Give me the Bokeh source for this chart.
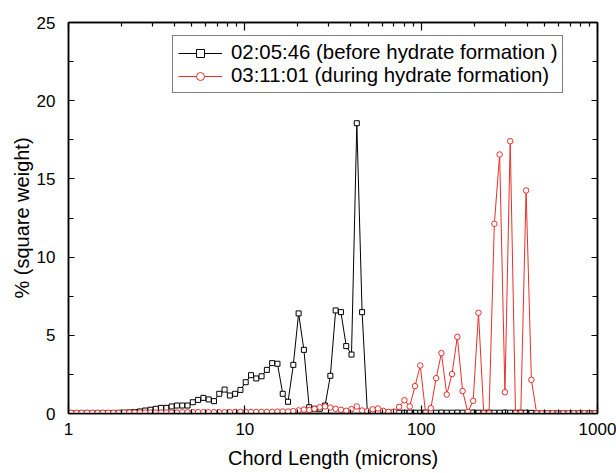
from bokeh.plotting import figure
from bokeh.models import (LinearAxis, LogAxis, FixedTicker, SingleIntervalTicker,
                          PrintfTickFormatter, Range1d, Legend, LegendItem, ColumnDataSource)
from bokeh.embed import file_html
from bokeh.resources import INLINE

# Chord length channel centres (microns), log-spaced channels 1-1000
chord = [1.0351, 1.1092, 1.1885, 1.2735, 1.3646, 1.4622, 1.5668, 1.6788, 1.7989, 1.9275,
         2.0654, 2.2131, 2.3714, 2.5410, 2.7227, 2.9174, 3.1261, 3.3497, 3.5892, 3.8459,
         4.1210, 4.4157, 4.7315, 5.0699, 5.4325, 5.8210, 6.2373, 6.6834, 7.1614, 7.6736,
         8.2224, 8.8105, 9.4406,
         10.116, 10.839, 11.614, 12.445, 13.335, 14.289, 15.311, 16.406, 17.579, 18.836,
         20.184, 21.627, 23.174, 24.831, 26.607, 28.510, 30.549, 32.734, 35.075, 37.584,
         40.272, 43.152, 46.238, 49.545, 53.088, 56.885, 60.954, 65.313, 69.984, 74.989,
         80.353, 86.099, 92.257, 98.855,
         105.93, 113.50, 121.62, 130.32, 139.64, 149.62, 160.32, 171.79, 184.08, 197.24,
         211.35, 226.46, 242.66, 260.02, 278.61, 298.54, 319.89, 342.77, 367.28, 393.55,
         421.70, 451.86, 484.17, 518.80, 555.90, 595.66, 638.26, 683.91, 732.82, 785.24,
         841.40, 901.57, 966.05]

before = [0.01, 0.01, 0.01, 0.01, 0.01, 0.02, 0.02, 0.03, 0.03, 0.04,
          0.05, 0.07, 0.09, 0.13, 0.19, 0.24, 0.30, 0.36, 0.36, 0.45,
          0.51, 0.51, 0.51, 0.72, 0.87, 1.00, 0.90, 0.79, 1.26, 1.53,
          1.15, 1.26, 1.51, 2.00, 2.45, 2.24, 2.38, 2.79, 3.22, 3.18,
          1.26, 0.75, 3.11, 6.40, 4.07, 0.40, 0.30, 0.30, 0.51, 2.41,
          6.59, 6.48, 4.31, 3.77, 18.56, 6.48, 0.05, 0.05, 0.06, 0.05,
          0.05, 0.06, 0.05, 0.05, 0.06, 0.05, 0.05, 0.06, 0.05, 0.05,
          0.06, 0.05, 0.05, 0.06, 0.05, 0.05, 0.06, 0.05, 0.05, 0.06,
          0.05, 0.05, 0.06, 0.05, 0.05, 0.06, 0.05, 0.04, 0.01, 0.01,
          0.01, 0.01, 0.01, 0.01, 0.01, 0.01, 0.01, 0.01, 0.01, 0.01]

during = [0.05, 0.05, 0.05, 0.05, 0.05, 0.05, 0.05, 0.05, 0.05, 0.05,
          0.06, 0.06, 0.06, 0.06, 0.06, 0.06, 0.06, 0.06, 0.06, 0.06,
          0.06, 0.08, 0.08, 0.08, 0.08, 0.08, 0.08, 0.08, 0.08, 0.08,
          0.08, 0.10, 0.10, 0.10, 0.10, 0.10, 0.10, 0.10, 0.10, 0.12,
          0.13, 0.12, 0.15, 0.20, 0.25, 0.22, 0.30, 0.40, 0.45, 0.38,
          0.30, 0.24, 0.17, 0.28, 0.45, 0.19, 0.15, 0.27, 0.32, 0.17,
          0.10, 0.12, 0.42, 0.85, 0.45, 1.75, 3.07, 0.04, 0.34, 2.26,
          3.86, 1.21, 2.52, 4.90, 1.43, 0.10, 0.81, 6.44, 0.02, 0.02,
          12.13, 16.56, 1.36, 17.41, 0.02, 0.02, 14.26, 2.15, 0.01, 0.01,
          0.01, 0.01, 0.01, 0.01, 0.01, 0.01, 0.01, 0.01, 0.01, 0.01]

x_major = [1, 10, 100, 1000]
x_minor = [2, 3, 4, 5, 6, 7, 8, 9, 20, 30, 40, 50, 60, 70, 80, 90,
           200, 300, 400, 500, 600, 700, 800, 900]

labels = ["02:05:46 (before hydrate formation )", "03:11:01 (during hydrate formation)"]

FONT = "Liberation Sans"
RED = "#e8302a"

p = figure(width=616, height=473, x_axis_type="log",
           x_range=Range1d(1, 1000), y_range=Range1d(0, 25),
           output_backend="svg", toolbar_location=None,
           min_border_left=68, min_border_right=19, min_border_top=22, min_border_bottom=60)
p.xgrid.visible = False
p.ygrid.visible = False
p.outline_line_color = "black"
p.outline_line_width = 1.5
p.background_fill_color = "white"
p.border_fill_color = "white"

src_b = ColumnDataSource(dict(x=chord, y=before))
src_r = ColumnDataSource(dict(x=chord, y=during))

lb = p.line("x", "y", source=src_b, line_color="black", line_width=1)
sb = p.scatter("x", "y", source=src_b, marker="square", size=5, fill_color="white",
               line_color="black", line_width=1)
lr = p.line("x", "y", source=src_r, line_color=RED, line_width=1)
sr = p.scatter("x", "y", source=src_r, marker="circle", size=5.5, fill_color="white",
               line_color=RED, line_width=1)

xt = FixedTicker(ticks=x_major, minor_ticks=x_minor)
yt = SingleIntervalTicker(interval=5, num_minor_ticks=2)

def style(ax, show_labels):
    ax.major_tick_out = 0
    ax.minor_tick_out = 0
    ax.axis_line_color = "black"
    ax.axis_line_width = 1.5
    ax.major_tick_line_color = "black"
    ax.minor_tick_line_color = "black"
    ax.major_tick_line_width = 1.2
    ax.minor_tick_line_width = 1.2
    ax.major_label_text_font = FONT
    ax.axis_label_text_font = FONT
    ax.axis_label_text_font_style = "normal"
    ax.axis_label_text_color = "black"
    ax.axis_label_text_font_size = "20px"
    if show_labels:
        ax.major_label_text_font_size = "17px"
        ax.major_label_text_color = "black"
    else:
        ax.major_label_text_font_size = "6px"
        ax.major_label_text_color = None
        ax.major_label_standoff = 0

xa = p.xaxis[0]
xa.ticker = xt
xa.formatter = PrintfTickFormatter(format="%d")
style(xa, True)
xa.major_tick_in = 8
xa.minor_tick_in = 4
xa.major_label_standoff = 9
xa.axis_label = "Chord Length (microns)"
xa.axis_label_standoff = 9

ya = p.yaxis[0]
ya.ticker = yt
style(ya, True)
ya.major_tick_in = 6
ya.minor_tick_in = 5
ya.major_label_standoff = 13
ya.axis_label = "% (square weight)"
ya.axis_label_standoff = 1

top = LogAxis(ticker=xt)
style(top, False)
top.major_tick_in = 8
top.minor_tick_in = 4
p.add_layout(top, "above")

right = LinearAxis(ticker=yt)
style(right, False)
right.major_tick_in = 6
right.minor_tick_in = 5
p.add_layout(right, "right")

legend = Legend(items=[LegendItem(label=labels[0], renderers=[lb, sb]),
                       LegendItem(label=labels[1], renderers=[lr, sr])],
                location=(104, 320))
legend.label_text_font = FONT
legend.label_text_font_size = "20.4px"
legend.label_text_color = "black"
legend.label_height = 20
legend.glyph_height = 20
legend.glyph_width = 44
legend.label_standoff = 9
legend.spacing = 0
legend.padding = 5
legend.margin = 0
legend.border_line_color = "black"
legend.border_line_width = 1
legend.background_fill_color = "white"
legend.background_fill_alpha = 1
p.add_layout(legend, "center")

open("out.html", "w").write(file_html(p, INLINE))
